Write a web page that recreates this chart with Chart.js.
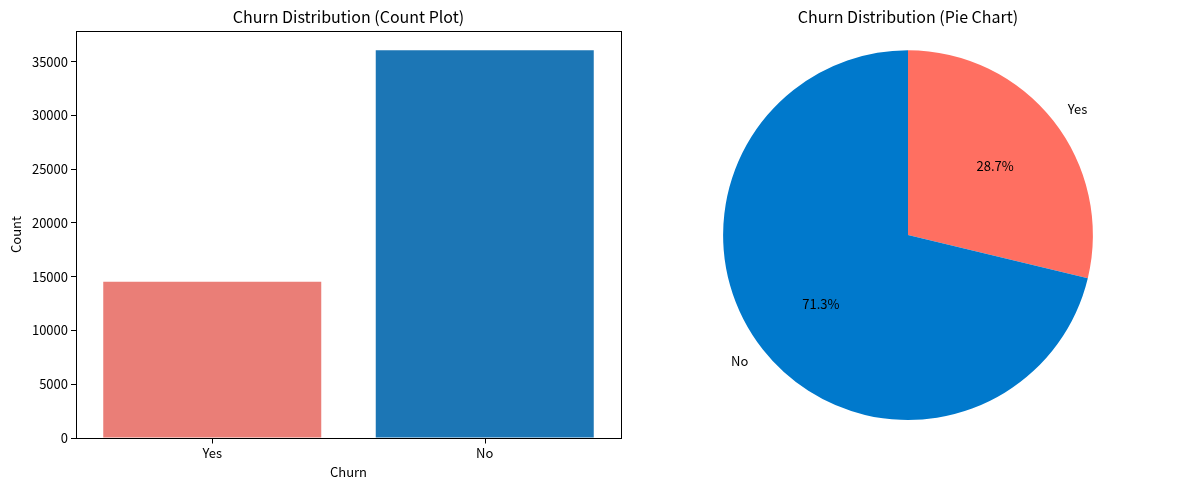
<!DOCTYPE html>
<html>
<head>
<meta charset="utf-8">
<script src="https://cdn.jsdelivr.net/npm/chart.js@4"></script>
<style>
html,body{margin:0;padding:0;background:#fff;}
body{width:1189px;height:490px;position:relative;overflow:hidden;}
#barWrap{position:absolute;left:0;top:0;width:640px;height:490px;}
#pieWrap{position:absolute;left:650px;top:0;width:516px;height:490px;}
</style>
</head>
<body>
<div id="barWrap"><canvas id="bar"></canvas></div>
<div id="pieWrap"><canvas id="pie"></canvas></div>
<script>
const categories = ['Yes', 'No'];
const counts = [14540, 36050];
const barColors = ['#EA7E77', '#1C76B5'];
const pieColors = ['#FF6F61', '#0079CC'];
const yTicks = [0, 5000, 10000, 15000, 20000, 25000, 30000, 35000];
const yMax = 37850;
const barTitle = 'Churn Distribution (Count Plot)';
const pieTitle = 'Churn Distribution (Pie Chart)';

const FONT = '"Noto Sans CJK KR", "Noto Sans", sans-serif';
Chart.defaults.font.family = FONT;
Chart.defaults.color = '#000';
Chart.defaults.animation = false;

const framePlugin = {
  id: 'frame',
  afterDraw(chart) {
    const a = chart.chartArea, c = chart.ctx;
    c.save();
    c.strokeStyle = '#000';
    c.lineWidth = 1;
    c.strokeRect(Math.round(a.left) + 0.5, Math.round(a.top) + 0.5, Math.round(a.right - a.left), Math.round(a.bottom - a.top));
    // x tick marks at category centres (from the library's scale)
    const xs = chart.scales.x;
    c.beginPath();
    categories.forEach((_, i) => {
      const x = Math.round(xs.getPixelForValue(i)) + 0.5;
      c.moveTo(x, Math.round(a.bottom) + 0.5);
      c.lineTo(x, Math.round(a.bottom) + 5.5);
    });
    c.stroke();
    c.font = '16px ' + FONT;
    c.fillStyle = '#000';
    c.textAlign = 'center';
    c.textBaseline = 'middle';
    c.fillText(barTitle, (a.left + a.right) / 2, 17);
    c.restore();
  }
};

new Chart(document.getElementById('bar'), {
  type: 'bar',
  data: {
    labels: categories,
    datasets: [{ data: counts, backgroundColor: barColors, borderWidth: 0, inflateAmount: 0, barPercentage: 0.8, categoryPercentage: 1 }]
  },
  options: {
    responsive: true,
    maintainAspectRatio: false,
    layout: { padding: { left: 0, right: 19, top: 31, bottom: 0 } },
    plugins: {
      legend: { display: false },
      tooltip: { enabled: false },
      title: { display: false }
    },
    scales: {
      x: {
        grid: { display: false },
        border: { display: true, color: '#000' },
        ticks: { font: { size: 13 }, padding: -1, color: '#000' },
        title: { display: true, text: 'Churn', font: { size: 13 }, padding: { top: 0, bottom: 10 }, color: '#000' },
        afterFit(s) { s.height = 52; }
      },
      y: {
        min: 0, max: yMax,
        grid: { drawOnChartArea: false, tickColor: '#000', tickLength: 5, color: '#000' },
        border: { color: '#000' },
        afterBuildTicks(s) { s.ticks = yTicks.map(v => ({ value: v })); },
        ticks: { font: { size: 13 }, padding: 3, color: '#000', callback: v => String(v) },
        title: { display: true, text: 'Count', font: { size: 13 }, padding: { top: 8, bottom: 0 }, color: '#000' },
        afterFit(s) { s.width = 76; }
      }
    }
  },
  plugins: [framePlugin]
});

const pieLabels = {
  id: 'pieLabels',
  afterDatasetsDraw(chart) {
    const meta = chart.getDatasetMeta(0);
    const c = chart.ctx;
    const total = counts.reduce((a, b) => a + b, 0);
    c.save();
    c.fillStyle = '#000';
    c.textBaseline = 'middle';
    meta.data.forEach((arc, i) => {
      const p = arc.getProps(['x', 'y', 'startAngle', 'endAngle', 'outerRadius']);
      const mid = (p.startAngle + p.endAngle) / 2;
      const cos = Math.cos(mid), sin = Math.sin(mid);
      c.font = '13px ' + FONT;
      const lx = p.x + cos * p.outerRadius * 1.1;
      const ly = p.y + sin * p.outerRadius * 1.1;
      c.textAlign = cos >= 0 ? 'left' : 'right';
      c.fillText(categories[i], lx, ly);
      const px = p.x + cos * p.outerRadius * 0.6;
      const py = p.y + sin * p.outerRadius * 0.6;
      c.textAlign = 'center';
      c.fillText((counts[i] / total * 100).toFixed(1) + '%', px, py);
    });
    c.restore();
  }
};

new Chart(document.getElementById('pie'), {
  type: 'pie',
  data: {
    labels: categories,
    datasets: [{ data: counts, backgroundColor: pieColors, borderWidth: 0 }]
  },
  options: {
    responsive: true,
    maintainAspectRatio: false,
    layout: { padding: { left: 73, right: 73, top: 0, bottom: 70 } },
    plugins: {
      legend: { display: false },
      tooltip: { enabled: false },
      title: { display: true, text: pieTitle, font: { size: 16, weight: 'normal' }, padding: { top: 7, bottom: 24 }, color: '#000' }
    }
  },
  plugins: [pieLabels]
});
</script>
</body>
</html>
